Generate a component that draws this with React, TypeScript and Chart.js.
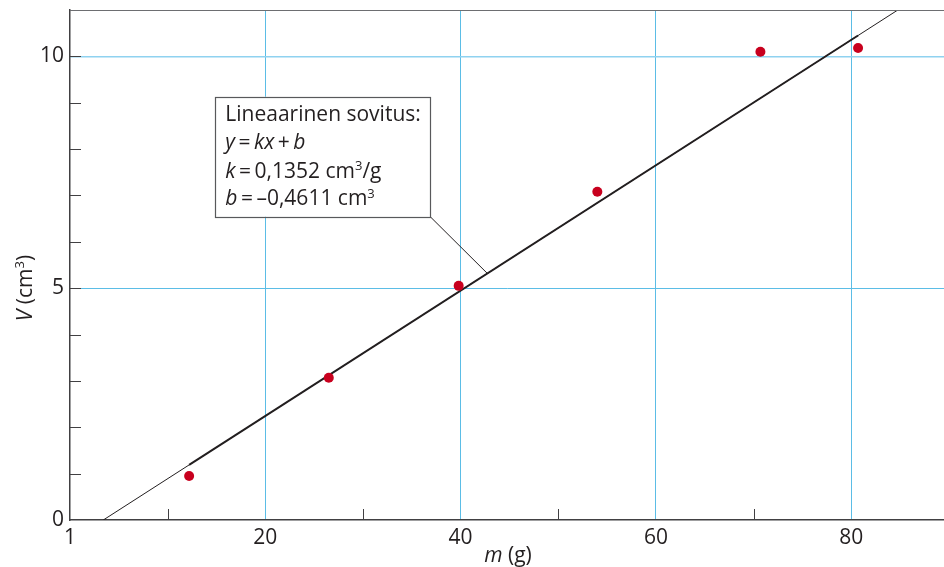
import React, { useEffect, useRef } from 'react';
import { Chart, registerables } from 'chart.js';

Chart.register(...registerables);

// ---- data ----
const massG = [12.2, 26.5, 39.8, 54.0, 70.7, 80.7];
const volumeCm3 = [0.95, 3.07, 5.05, 7.08, 10.1, 10.18];

// fitted line y = kx + b (k = 0.1352, b = -0.4611), end points
const fitFullX = [3.41, 84.77];
const fitFullY = [0, 11];
const fitDataX = [12.2, 80.7];
const fitDataY = [1.19, 10.45];

const xTickLabels: Record<number, string> = { 0: '1', 20: '20', 40: '40', 60: '60', 80: '80' };
const yTickLabels: Record<number, string> = { 0: '0', 5: '5', 10: '10' };
const xMinorTicks = [10, 30, 50, 70];
const yMinorTicks = [1, 2, 3, 4, 5, 6, 7, 8, 9, 10];

type Seg = { t: string; i?: boolean; sup?: boolean };
const annotationLines: Seg[][] = [
  [{ t: 'Lineaarinen sovitus:' }],
  [{ t: 'y', i: true }, { t: '\u2009=\u2009' }, { t: 'kx', i: true }, { t: '\u2009+\u2009' }, { t: 'b', i: true }],
  [{ t: 'k', i: true }, { t: '\u2009=\u20090,1352 cm' }, { t: '3', sup: true }, { t: '/g' }],
  [{ t: 'b', i: true }, { t: '\u2009=\u2009\u20130,4611 cm' }, { t: '3', sup: true }],
];
const xTitle: Seg[] = [{ t: 'm', i: true }, { t: ' (g)' }];
const yTitle: Seg[] = [{ t: 'V', i: true }, { t: ' (cm' }, { t: '3', sup: true }, { t: ')' }];

// annotation placement in data units
const boxX = [14.88, 36.9];
const boxY = [9.13, 6.54];
const leaderEnd = { x: 42.73, y: 5.32 };

const FAMILY = '"Open Sans", "Noto Sans", sans-serif';
const TEXT = '#231f20';
const BLUE = '#5bbde6';

function fontOf(size: number, italic?: boolean) {
  return `${italic ? 'italic ' : ''}${size}px ${FAMILY}`;
}

function segsWidth(ctx: CanvasRenderingContext2D, segs: Seg[], size: number) {
  let w = 0;
  for (const s of segs) {
    ctx.font = fontOf(s.sup ? size * 0.62 : size, s.i);
    w += ctx.measureText(s.t).width;
  }
  return w;
}

function drawSegs(ctx: CanvasRenderingContext2D, segs: Seg[], x: number, y: number, size: number) {
  let cx = x;
  ctx.textBaseline = 'alphabetic';
  ctx.textAlign = 'left';
  for (const s of segs) {
    const sz = s.sup ? size * 0.62 : size;
    ctx.font = fontOf(sz, s.i);
    ctx.fillText(s.t, cx, s.sup ? y - size * 0.36 : y);
    cx += ctx.measureText(s.t).width;
  }
}

const decorPlugin = {
  id: 'decor',
  afterDatasetsDraw(chart: any) {
    const { ctx, chartArea, scales } = chart;
    const xs = scales.x;
    const ys = scales.y;
    ctx.save();
    // top border
    ctx.strokeStyle = '#6d6e71';
    ctx.lineWidth = 1;
    ctx.beginPath();
    ctx.moveTo(chartArea.left, chartArea.top + 0.5);
    ctx.lineTo(chartArea.right, chartArea.top + 0.5);
    ctx.stroke();

    // inner minor ticks
    ctx.strokeStyle = '#414042';
    ctx.lineWidth = 1;
    for (const v of xMinorTicks) {
      const px = Math.round(xs.getPixelForValue(v)) + 0.5;
      ctx.beginPath();
      ctx.moveTo(px, chartArea.bottom);
      ctx.lineTo(px, chartArea.bottom - 11);
      ctx.stroke();
    }
    for (const v of yMinorTicks) {
      const py = Math.round(ys.getPixelForValue(v)) + 0.5;
      ctx.beginPath();
      ctx.moveTo(chartArea.left, py);
      ctx.lineTo(chartArea.left + 11, py);
      ctx.stroke();
    }

    // annotation leader
    const bl = xs.getPixelForValue(boxX[0]);
    const br = xs.getPixelForValue(boxX[1]);
    const bt = ys.getPixelForValue(boxY[0]);
    const bb = ys.getPixelForValue(boxY[1]);
    ctx.strokeStyle = '#231f20';
    ctx.lineWidth = 1;
    ctx.beginPath();
    ctx.moveTo(br, bb);
    ctx.lineTo(xs.getPixelForValue(leaderEnd.x), ys.getPixelForValue(leaderEnd.y));
    ctx.stroke();

    // annotation box
    ctx.fillStyle = '#ffffff';
    ctx.fillRect(bl, bt, br - bl, bb - bt);
    ctx.strokeStyle = '#58595b';
    ctx.lineWidth = 1.2;
    ctx.strokeRect(Math.round(bl) + 0.5, Math.round(bt) + 0.5, Math.round(br - bl), Math.round(bb - bt));
    ctx.fillStyle = TEXT;
    const baseOffsets = [24.4, 52.7, 81, 108.7];
    annotationLines.forEach((line, idx) => {
      drawSegs(ctx, line, bl + 10, bt + baseOffsets[idx], 21);
    });

    // axis titles
    const xw = segsWidth(ctx, xTitle, 21);
    drawSegs(ctx, xTitle, 508 - xw / 2, 562, 21);
    ctx.translate(32, (chartArea.top + chartArea.bottom) / 2 + 23);
    ctx.rotate(-Math.PI / 2);
    const yw = segsWidth(ctx, yTitle, 21);
    drawSegs(ctx, yTitle, -yw / 2, 0, 21);
    ctx.restore();
  },
};

export default function App() {
  const ref = useRef<HTMLCanvasElement | null>(null);
  useEffect(() => {
    document.body.style.margin = '0';
    const canvas = ref.current!;
    const chart = new Chart(canvas, {
      type: 'scatter',
      data: {
        datasets: [
          {
            label: 'fit-full',
            data: fitFullX.map((x, i) => ({ x, y: fitFullY[i] })),
            showLine: true,
            borderColor: '#231f20',
            borderWidth: 1,
            pointRadius: 0,
            order: 3,
          },
          {
            label: 'fit-data',
            data: fitDataX.map((x, i) => ({ x, y: fitDataY[i] })),
            showLine: true,
            borderColor: '#231f20',
            borderWidth: 2,
            pointRadius: 0,
            order: 2,
          },
          {
            label: 'mittaus',
            data: massG.map((x, i) => ({ x, y: volumeCm3[i] })),
            showLine: false,
            backgroundColor: '#c8001e',
            borderColor: '#c8001e',
            pointRadius: 5,
            borderWidth: 0,
            order: 1,
          },
        ],
      },
      options: {
        responsive: false,
        animation: false,
        layout: { padding: { top: 10, right: 0, left: 0, bottom: 0 } },
        plugins: { legend: { display: false }, tooltip: { enabled: false } },
        scales: {
          x: {
            type: 'linear',
            min: 0,
            max: 89.5,
            afterFit: (s: any) => { s.height = 47; s.paddingLeft = 0; s.paddingRight = 0; },
            ticks: {
              stepSize: 10,
              includeBounds: false,
              autoSkip: false,
              maxRotation: 0,
              padding: 5,
              color: TEXT,
              font: { family: FAMILY, size: 21 },
              callback: (v: any) => xTickLabels[Number(v)] ?? '',
            },
            grid: {
              drawTicks: false,
              color: (c: any) => (c.tick && c.tick.value > 0 && c.tick.value % 20 === 0 ? BLUE : 'rgba(0,0,0,0)'),
              lineWidth: 1,
            },
            border: { display: true, color: '#414042', width: 1.5 },
          },
          y: {
            type: 'linear',
            min: 0,
            max: 11,
            afterFit: (s: any) => { s.width = 70; s.paddingTop = 0; s.paddingBottom = 0; },
            ticks: {
              stepSize: 1,
              includeBounds: false,
              autoSkip: false,
              padding: 6,
              color: TEXT,
              font: { family: FAMILY, size: 21 },
              callback: (v: any) => yTickLabels[Number(v)] ?? '',
            },
            grid: {
              drawTicks: false,
              color: (c: any) => {
                const v = c.tick ? c.tick.value : -1;
                if (v === 10) return '#8fd2f0';
                if (v === 5) return BLUE;
                return 'rgba(0,0,0,0)';
              },
              lineWidth: (c: any) => (c.tick && c.tick.value === 10 ? 1.6 : 1),
            },
            border: { display: true, color: '#414042', width: 1.5 },
          },
        },
      },
      plugins: [decorPlugin],
    });
    return () => chart.destroy();
  }, []);
  return (
    <div style={{ width: 944, height: 567, overflow: 'hidden' }}>
      <canvas ref={ref} width={949} height={567} style={{ display: 'block' }} />
    </div>
  );
}
